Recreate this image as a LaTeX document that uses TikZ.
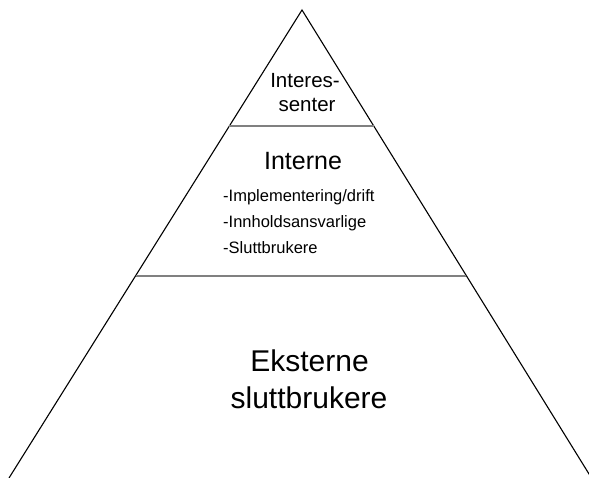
\documentclass[tikz,border=0pt]{standalone}
\usepackage{fontspec}
\setmainfont{Liberation Sans}
\usetikzlibrary{calc,positioning}

\begin{document}
\begin{tikzpicture}[
x=1pt,y=-1pt,
side/.style={
  draw=black,
  line width=1.1pt
},
layer/.style={
  draw=gray,
  line width=1.6pt
},
txt/.style={
  inner sep=0pt,
  anchor=base
},
item/.style={
  inner sep=0pt,
  anchor=base west,
  font=\fontsize{16.5}{19}\selectfont
}
]
\useasboundingbox (0,0) rectangle (589,478);
\clip (0,0) rectangle (589,478);

\coordinate (apex) at (302,10);
\coordinate (bl) at (9,478);
\coordinate (br) at (591.5,478);

% sides of the pyramid
\draw[side] (bl) -- (apex) -- (br);

% layers
\draw[layer] ($(apex)!0.248!(bl)$) -- ($(apex)!0.248!(br)$);
\draw[layer] ($(apex)!0.568!(bl)$) -- ($(apex)!0.568!(br)$);

% top
\node[txt,font=\fontsize{20.5}{24}\selectfont] at (305,87.3)
  (interes) {Interes-};
\node[txt,font=\fontsize{20.5}{24}\selectfont] at (307,111.3)
  (senter) {senter};

% middle
\node[txt,font=\fontsize{25}{30}\selectfont] at (303,170)
  (interne) {Interne};
\node[item] at (223,201.5)
  (impl) {-Implementering/drift};
\node[item] at (223,227.5)
  (innhold) {-Innholdsansvarlige};
\node[item] at (223,254)
  (slutt) {-Sluttbrukere};

% bottom
\node[txt,font=\fontsize{30}{36}\selectfont] at (309.5,371)
  (eksterne) {Eksterne};
\node[txt,font=\fontsize{30}{36}\selectfont] at (309,408.3)
  (sluttbr) {sluttbrukere};
\end{tikzpicture}
\end{document}
